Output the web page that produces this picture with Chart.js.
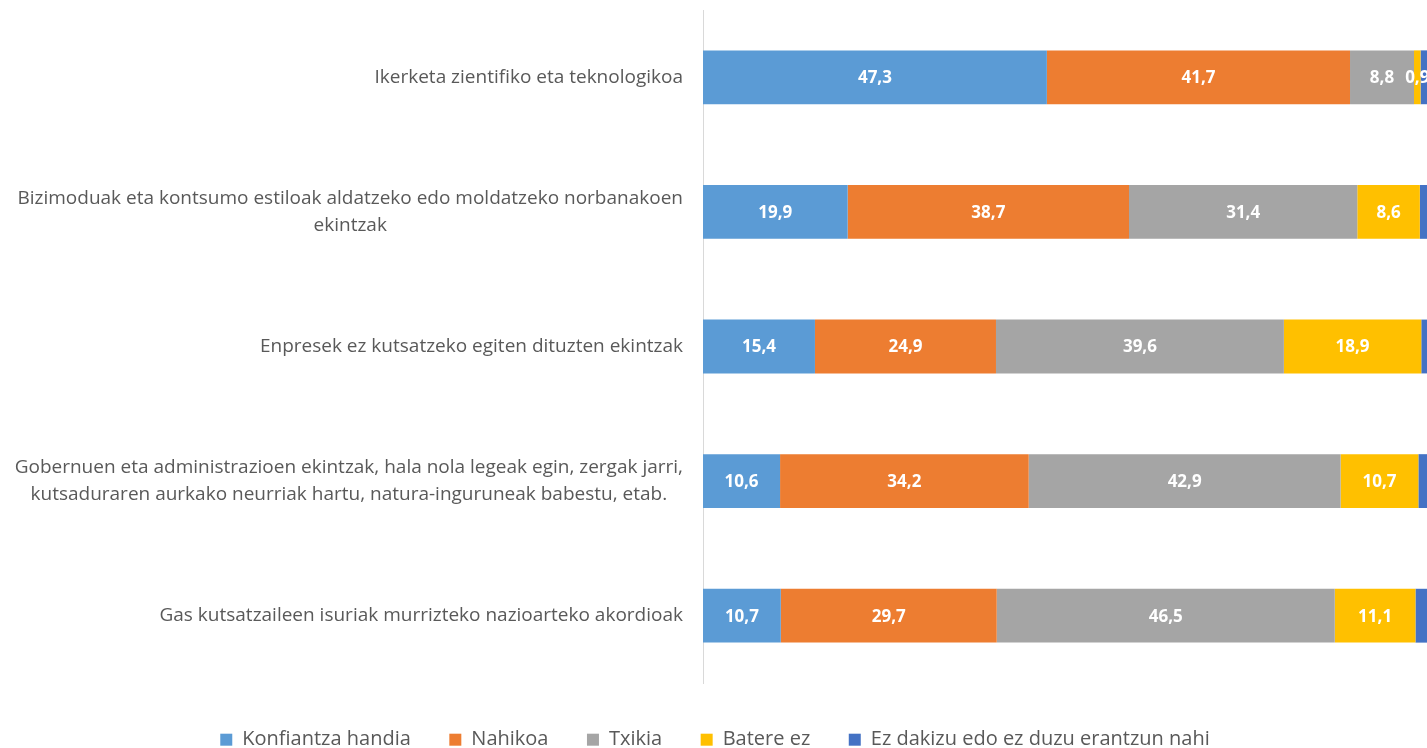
<!DOCTYPE html>
<html>
<head>
<meta charset="utf-8">
<script src="https://cdn.jsdelivr.net/npm/chart.js@4.4.1/dist/chart.umd.min.js"></script>
<style>
  html, body { margin: 0; padding: 0; background: #fff; overflow: hidden; }
  #wrap { width: 1430px; height: 748px; position: relative; }
</style>
</head>
<body>
<div id="wrap"><canvas id="chart"></canvas></div>
<script>
// categories (each one split into its lines)
const categories = [
  ["Ikerketa zientifiko eta teknologikoa"],
  ["Bizimoduak eta kontsumo estiloak aldatzeko edo moldatzeko norbanakoen", "ekintzak"],
  ["Enpresek ez kutsatzeko egiten dituzten ekintzak"],
  ["Gobernuen eta administrazioen ekintzak, hala nola legeak egin, zergak jarri,", "kutsaduraren aurkako neurriak hartu, natura-inguruneak babestu, etab."],
  ["Gas kutsatzaileen isuriak murrizteko nazioarteko akordioak"]
];

const seriesNames = ["Konfiantza handia", "Nahikoa", "Txikia", "Batere ez", "Ez dakizu edo ez duzu erantzun nahi"];

const konfiantza = [47.3, 19.9, 15.4, 10.6, 10.7];
const nahikoa = [41.7, 38.7, 24.9, 34.2, 29.7];
const txikia = [8.8, 31.4, 39.6, 42.9, 46.5];
const batere = [0.9, 8.6, 18.9, 10.7, 11.1];
const ezDakizu = [1.3, 1.4, 1.2, 1.6, 2.0];

const colors = ["#5B9BD5", "#ED7D31", "#A5A5A5", "#FFC000", "#4472C4"];
const textColor = "#595959";
const fontFamily = "'Open Sans', 'Noto Sans', sans-serif";

const values = [konfiantza, nahikoa, txikia, batere, ezDakizu];

const datasets = seriesNames.map((name, i) => ({
  label: name,
  data: values[i],
  backgroundColor: colors[i],
  borderWidth: 0,
  barPercentage: 0.4,
  categoryPercentage: 1,
  showValue: i < 4
}));

// category labels: block right-aligned at the axis, lines centred within the block
const yLabels = {
  id: 'yLabels',
  afterDraw(chart) {
    const ctx = chart.ctx;
    const y = chart.scales.y;
    const right = chart.chartArea.left - 20;
    const lh = 27.5;
    ctx.save();
    ctx.font = "19px " + fontFamily;
    ctx.fillStyle = textColor;
    ctx.textAlign = 'center';
    ctx.textBaseline = 'middle';
    categories.forEach((lines, i) => {
      const yc = y.getPixelForValue(i);
      let w = 0;
      lines.forEach(l => { w = Math.max(w, ctx.measureText(l).width); });
      const cx = right - w / 2;
      const y0 = yc - (lines.length - 1) * lh / 2;
      lines.forEach((l, k) => ctx.fillText(l, cx, y0 + k * lh));
    });
    ctx.restore();
  }
};

// white values in the middle of each segment
const valueLabels = {
  id: 'valueLabels',
  afterDatasetsDraw(chart) {
    const ctx = chart.ctx;
    ctx.save();
    ctx.font = "bold 17px " + fontFamily;
    ctx.fillStyle = "#ffffff";
    ctx.textAlign = 'center';
    ctx.textBaseline = 'middle';
    chart.data.datasets.forEach((ds, i) => {
      if (!ds.showValue) return;
      chart.getDatasetMeta(i).data.forEach((bar, j) => {
        const p = bar.getProps(['x', 'y', 'base'], true);
        const cx = (p.x + p.base) / 2;
        ctx.fillText(ds.data[j].toFixed(1).replace('.', ','), cx, p.y + 1);
      });
    });
    ctx.restore();
  }
};

new Chart(document.getElementById('chart'), {
  type: 'bar',
  data: {
    labels: categories.map(c => c.join(' ')),
    datasets: datasets
  },
  options: {
    indexAxis: 'y',
    responsive: true,
    maintainAspectRatio: false,
    animation: false,
    layout: { padding: { left: 0, top: 10, right: 0, bottom: 0 } },
    scales: {
      x: {
        stacked: true,
        min: 0,
        max: 100,
        display: false
      },
      y: {
        stacked: true,
        afterFit(scale) { scale.width = 703; },
        ticks: { display: false },
        grid: { display: false, drawTicks: false },
        border: { display: true, color: "#D9D9D9", width: 1 }
      }
    },
    plugins: {
      legend: {
        position: 'bottom',
        maxHeight: 65,
        title: { display: true, text: ' ', font: { size: 1 }, padding: { top: 3.5, bottom: 3.5 } },
        labels: {
          boxWidth: 12,
          boxHeight: 12,
          padding: 38.5,
          color: textColor,
          font: { family: fontFamily, size: 20 }
        }
      },
      tooltip: { enabled: false }
    }
  },
  plugins: [yLabels, valueLabels]
});
</script>
</body>
</html>
